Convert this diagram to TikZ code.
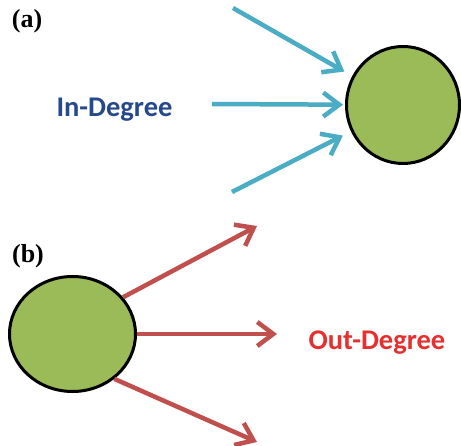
\documentclass[tikz,border=0pt]{standalone}
\usepackage{fontspec}
\setmainfont{Liberation Serif}
\newfontfamily\carlito{Carlito}
\usetikzlibrary{arrows.meta,shapes.geometric}
\definecolor{vgreen}{RGB}{155,187,89}
\definecolor{inblue}{RGB}{75,172,198}
\definecolor{outred}{RGB}{192,80,77}
\definecolor{intext}{RGB}{38,72,140}
\definecolor{outtext}{RGB}{228,48,46}

\begin{document}
\begin{tikzpicture}[x=1pt,y=-1pt,
    vert/.style={ellipse,draw=black,line width=3pt,fill=vgreen,inner sep=0pt},
    edge/.style={line width=4.5pt,-{Straight Barb[length=16pt,width=24pt]}},
    panel/.style={font=\fontsize{26}{29}\selectfont\bfseries},
    degree/.style={font=\carlito\fontsize{28.5}{32}\selectfont\bfseries,anchor=base west}]
    \useasboundingbox (0,0) rectangle (461,446);
    % (a) in-degree
    \node[panel] (la) at (27,21) {(a)};
    \node[vert,minimum width=113pt,minimum height=117pt] (va) at (403,105) {};
    \coordinate (a1) at (233,8);
    \coordinate (a2) at (212,104);
    \coordinate (a3) at (232,192);
    \draw[edge,inblue,shorten >=9pt] (a1) -- (va);
    \draw[edge,inblue,shorten >=2pt] (a2) -- (va);
    \draw[edge,inblue,shorten >=9pt] (a3) -- (va);
    \node[degree,intext] (din) at (53,117) {In-Degree};
    % (b) out-degree
    \node[panel] (lb) at (28,256) {(b)};
    \node[vert,minimum width=126pt,minimum height=115pt] (vb) at (72.5,334) {};
    \coordinate (b1) at (257,226);
    \coordinate (b2) at (277,334);
    \coordinate (b3) at (257,442);
    \draw[edge,outred] (vb.36) -- (b1);
    \draw[edge,outred] (vb.east) -- (b2);
    \draw[edge,outred] (vb.-47) -- (b3);
    \node[degree,outtext] (dout) at (305,350) {Out-Degree};
\end{tikzpicture}
\end{document}
